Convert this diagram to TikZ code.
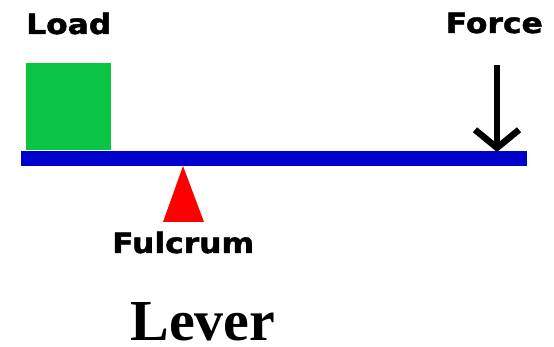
\documentclass[tikz,border=0pt]{standalone}
\usepackage{fontspec}
\usepackage{tikz}
\usetikzlibrary{arrows.meta}
\newfontfamily\labelfont{DejaVu Sans}[FakeStretch=1.12,FakeBold=1.6]
\newfontfamily\titlefont{Liberation Serif}
\definecolor{beamblue}{RGB}{0,0,204}
\definecolor{loadgreen}{RGB}{10,196,67}
\definecolor{fulcred}{RGB}{255,0,0}

\begin{document}
\begin{tikzpicture}[x=1pt, y=-1pt,
  lbl/.style={inner sep=0pt, font=\labelfont\bfseries\fontsize{28}{28}\selectfont}]
\useasboundingbox (0,0) rectangle (554,347);
%\draw[very thin,color=gray] (0,0) grid[step=50] (554,347);

% beam and load
\fill[beamblue] (21,151) rectangle (527,166);
\fill[loadgreen] (26,63) rectangle (111,150);

% fulcrum
\fill[fulcred] (183,166) -- (163,222) -- (204,222) -- cycle;

% force arrow
\coordinate (ftop) at (497,65);
\coordinate (ftip) at (497,152);
\draw[line width=6.5pt, -{Straight Barb[length=18pt,width=44pt,line width=6.5pt]}] (ftop) -- (ftip);

\node[lbl, anchor=base west] (load) at (26,34) {Load};
\node[lbl, anchor=base east] (force) at (543,33) {Force};
\node[lbl, anchor=base west] (fulcrum) at (112,253) {Fulcrum};
\node[inner sep=0pt, anchor=base, font=\titlefont\bfseries\fontsize{58}{58}\selectfont] (lever) at (203,340) {Lever};

\end{tikzpicture}
\end{document}
